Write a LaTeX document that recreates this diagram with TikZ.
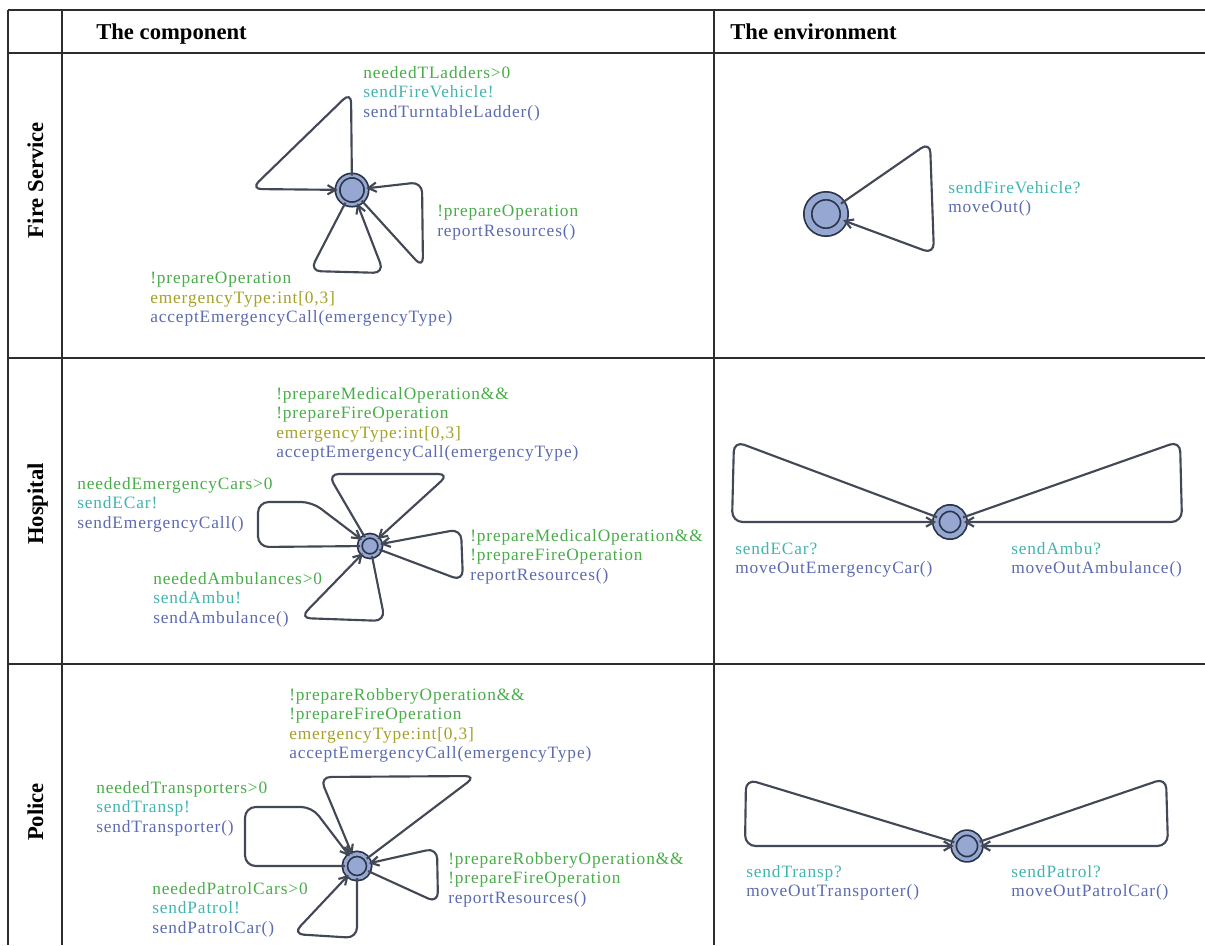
\documentclass[tikz,border=0pt]{standalone}
\usepackage{fontspec}
\setmainfont{Liberation Serif}
\newfontfamily\lblfont[LetterSpace=5]{Liberation Serif}
\usetikzlibrary{arrows.meta}

\definecolor{grd}{RGB}{72,172,72}
\definecolor{syn}{RGB}{64,180,176}
\definecolor{sel}{RGB}{166,160,40}
\definecolor{upd}{RGB}{92,106,176}
\definecolor{edgec}{RGB}{66,72,86}
\definecolor{locf}{RGB}{150,168,210}
\definecolor{locb}{RGB}{42,52,72}
\definecolor{rule}{RGB}{45,45,45}

\tikzset{
  rulel/.style={draw=rule, line width=1.1pt},
  head/.style={font=\fontsize{17}{20}\selectfont\bfseries, inner sep=0pt},
  rowlbl/.style={head, rotate=90, anchor=base},
  loc/.style 2 args={circle, inner sep=0pt, outer sep=0pt, minimum size=#1,
    draw=locb, line width=1.3pt, double=locf, double distance=#2, fill=locf},
  edge/.style={draw=edgec, line width=1.6pt, rounded corners=8pt,
    -{Straight Barb[length=6pt,width=7pt]}},
  lbl/.style={anchor=north west, inner sep=0pt, align=left,
    font=\lblfont\fontsize{13}{14.6}\selectfont},
}
\newcommand{\gd}[1]{\textcolor{grd}{#1}}
\newcommand{\sy}[1]{\textcolor{syn}{#1}}
\newcommand{\se}[1]{\textcolor{sel}{#1}}
\newcommand{\up}[1]{\textcolor{upd}{#1}}

\begin{document}
\begin{tikzpicture}[x=0.75pt,y=-0.75pt]
\useasboundingbox (0,0) rectangle (1205,945);

% table rules
\draw[rulel] (8,10) -- (1205,10);
\draw[rulel] (8,53) -- (1205,53);
\draw[rulel] (8,358) -- (1205,358);
\draw[rulel] (8,664) -- (1205,664);
\draw[rulel] (8,10) -- (8,945);
\draw[rulel] (62,10) -- (62,945);
\draw[rulel] (714,10) -- (714,945);

% headers
\node[head, anchor=base west] (hcomp) at (96,39.5) {The component};
\node[head, anchor=base west] (henv) at (730,39.5) {The environment};
\node[rowlbl] (rfire) at (43,180) {Fire Service};
\node[rowlbl] (rhosp) at (43,504) {Hospital};
\node[rowlbl] (rpol) at (43,812) {Police};

% ---------- Fire service: component ----------
\node[loc={21.6pt}{2.1pt}] (fc) at (352,190) {};
\coordinate (fc1a) at (351,92);  \coordinate (fc1b) at (251,189);
\coordinate (fc2a) at (423,268); \coordinate (fc2b) at (422,182);
\coordinate (fc3a) at (310,271); \coordinate (fc3b) at (384,273);
\draw[edge] (fc) -- (fc1a) -- (fc1b) -- (fc);
\draw[edge] (fc) -- (fc2a) -- (fc2b) -- (fc);
\draw[edge] (fc) -- (fc3a) -- (fc3b) -- (fc);
\node[lbl] (fcl1) at (363,66) {\gd{neededTLadders>0}\\\sy{sendFireVehicle!}\\\up{sendTurntableLadder()}};
\node[lbl] (fcl2) at (437,205) {\gd{!prepareOperation}\\\up{reportResources()}};
\node[lbl] (fcl3) at (150,272) {\gd{!prepareOperation}\\\se{emergencyType:int[0,3]}\\\up{acceptEmergencyCall(emergencyType)}};

% ---------- Fire service: environment ----------
\node[loc={27.3pt}{4.6pt}] (fe) at (826,214) {};
\coordinate (fe1a) at (930,142); \coordinate (fe1b) at (934,254);
\draw[edge] (fe) -- (fe1a) -- (fe1b) -- (fe);
\node[lbl] (fel1) at (948,181) {\sy{sendFireVehicle?}\\\up{moveOut()}};

% ---------- Hospital: component ----------
\node[loc={15.3pt}{2.1pt}] (hc) at (370,546) {};
\coordinate (hc1a) at (328,474); \coordinate (hc1b) at (449,474);
\coordinate (hc2a) at (258,547); \coordinate (hc2b) at (258,502); \coordinate (hc2c) at (312,502);
\coordinate (hc3a) at (463,581); \coordinate (hc3b) at (461,529);
\coordinate (hc4a) at (385,621); \coordinate (hc4b) at (300,618);
\draw[edge] (hc) -- (hc1a) -- (hc1b) -- (hc);
\draw[edge] (hc) -- (hc2a) -- (hc2b) -- (hc2c) -- (hc);
\draw[edge] (hc) -- (hc3a) -- (hc3b) -- (hc);
\draw[edge] (hc) -- (hc4a) -- (hc4b) -- (hc);
\node[lbl] (hcl1) at (276,387) {\gd{!prepareMedicalOperation\&\&}\\\gd{!prepareFireOperation}\\\se{emergencyType:int[0,3]}\\\up{acceptEmergencyCall(emergencyType)}};
\node[lbl] (hcl2) at (77,477) {\gd{neededEmergencyCars>0}\\\sy{sendECar!}\\\up{sendEmergencyCall()}};
\node[lbl] (hcl3) at (470,529) {\gd{!prepareMedicalOperation\&\&}\\\gd{!prepareFireOperation}\\\up{reportResources()}};
\node[lbl] (hcl4) at (153,572) {\gd{neededAmbulances>0}\\\sy{sendAmbu!}\\\up{sendAmbulance()}};

% ---------- Hospital: environment ----------
\node[loc={20.8pt}{3.6pt}] (he) at (950,522) {};
\coordinate (he1a) at (734,441);  \coordinate (he1b) at (732,522);
\coordinate (he2a) at (1180,441); \coordinate (he2b) at (1182,522);
\draw[edge] (he) -- (he1a) -- (he1b) -- (he);
\draw[edge] (he) -- (he2a) -- (he2b) -- (he);
\node[lbl] (hel1) at (735,542) {\sy{sendECar?}\\\up{moveOutEmergencyCar()}};
\node[lbl] (hel2) at (1011,542) {\sy{sendAmbu?}\\\up{moveOutAmbulance()}};

% ---------- Police: component ----------
\node[loc={18.2pt}{2.5pt}] (pc) at (357,866) {};
\coordinate (pc1a) at (476,776); \coordinate (pc1b) at (320,777);
\coordinate (pc2a) at (245,866); \coordinate (pc2b) at (245,807); \coordinate (pc2c) at (312,807);
\coordinate (pc3a) at (438,903); \coordinate (pc3b) at (437,848);
\coordinate (pc4a) at (357,938); \coordinate (pc4b) at (293,934);
\draw[edge] (pc) -- (pc1a) -- (pc1b) -- (pc);
\draw[edge] (pc) -- (pc2a) -- (pc2b) -- (pc2c) -- (pc);
\draw[edge] (pc) -- (pc3a) -- (pc3b) -- (pc);
\draw[edge] (pc) -- (pc4a) -- (pc4b) -- (pc);
\node[lbl] (pcl1) at (289,688) {\gd{!prepareRobberyOperation\&\&}\\\gd{!prepareFireOperation}\\\se{emergencyType:int[0,3]}\\\up{acceptEmergencyCall(emergencyType)}};
\node[lbl] (pcl2) at (96,781) {\gd{neededTransporters>0}\\\sy{sendTransp!}\\\up{sendTransporter()}};
\node[lbl] (pcl3) at (448,852) {\gd{!prepareRobberyOperation\&\&}\\\gd{!prepareFireOperation}\\\up{reportResources()}};
\node[lbl] (pcl4) at (152,882) {\gd{neededPatrolCars>0}\\\sy{sendPatrol!}\\\up{sendPatrolCar()}};

% ---------- Police: environment ----------
\node[loc={19.85pt}{2.6pt}] (pe) at (967,846) {};
\coordinate (pe1a) at (746,779);  \coordinate (pe1b) at (745,846);
\coordinate (pe2a) at (1166,778); \coordinate (pe2b) at (1168,846);
\draw[edge] (pe) -- (pe1a) -- (pe1b) -- (pe);
\draw[edge] (pe) -- (pe2a) -- (pe2b) -- (pe);
\node[lbl] (pel1) at (746,865) {\sy{sendTransp?}\\\up{moveOutTransporter()}};
\node[lbl] (pel2) at (1011,865) {\sy{sendPatrol?}\\\up{moveOutPatrolCar()}};
\end{tikzpicture}
\end{document}
